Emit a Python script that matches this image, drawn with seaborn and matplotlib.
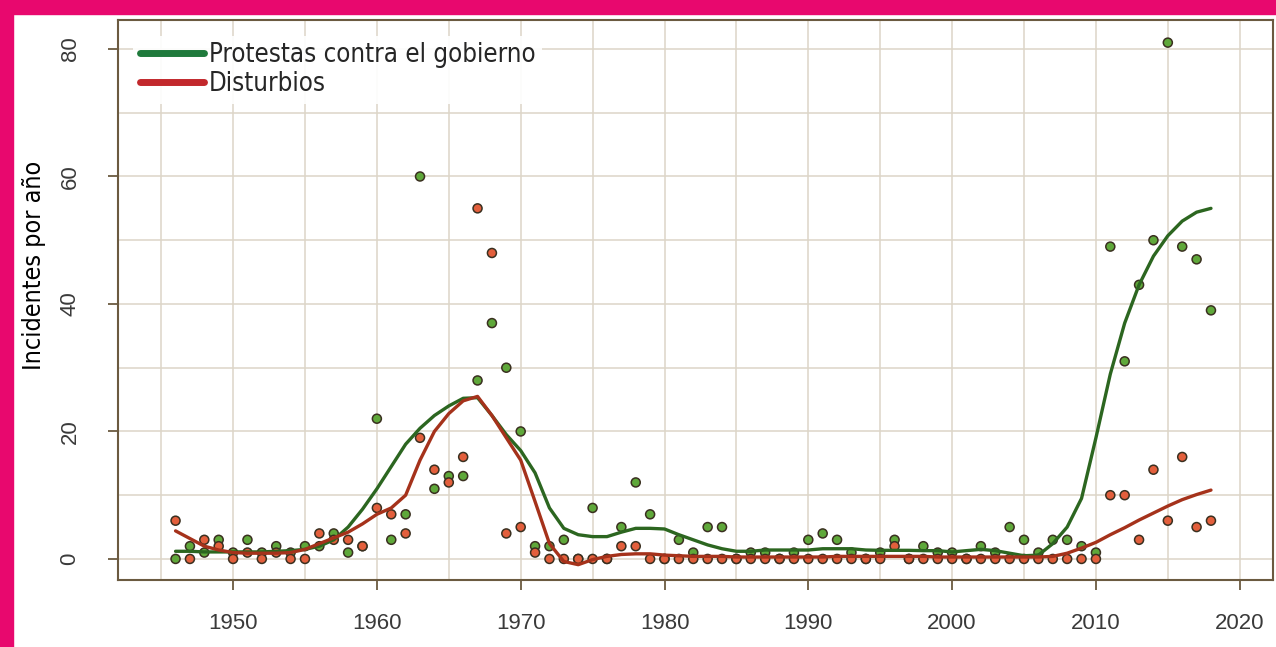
import numpy as np
import pandas as pd
import matplotlib
matplotlib.use('Agg')
import matplotlib.pyplot as plt
from matplotlib import font_manager
from matplotlib.font_manager import FontProperties
from matplotlib.lines import Line2D
from matplotlib.patches import Rectangle
import seaborn as sns

# yearly counts
years = list(range(1946, 2019))
protestas = [0, 2, 1, 3, 1, 3, 1, 2, 1, 2,
             2, 4, 1, 2, 22, 3, 7, 60, 11, 13,
             13, 28, 37, 30, 20, 2, 2, 3, 0, 8,
             0, 5, 12, 7, 0, 3, 1, 5, 5, 0,
             1, 1, 0, 1, 3, 4, 3, 1, 0, 1,
             3, 0, 2, 1, 1, 0, 2, 1, 5, 3,
             1, 3, 3, 2, 1, 49, 31, 43, 50, 81,
             49, 47, 39]
disturbios = [6, 0, 3, 2, 0, 1, 0, 1, 0, 0,
              4, 3, 3, 2, 8, 7, 4, 19, 14, 12,
              16, 55, 48, 4, 5, 1, 0, 0, 0, 0,
              0, 2, 2, 0, 0, 0, 0, 0, 0, 0,
              0, 0, 0, 0, 0, 0, 0, 0, 0, 0,
              2, 0, 0, 0, 0, 0, 0, 0, 0, 0,
              0, 0, 0, 0, 0, 10, 10, 3, 14, 6,
              16, 5, 6]

# smoothed trend lines (one value per year)
tend_protestas = [1.2, 1.2, 1.1, 1.1, 1.1, 1.1, 1.1, 1.2, 1.3, 1.5,
                  2.0, 3.0, 5.0, 7.8, 11.0, 14.5, 18.0, 20.5, 22.5, 24.0,
                  25.2, 25.3, 22.5, 19.5, 17.0, 13.5, 8.0, 4.8, 3.8, 3.5,
                  3.5, 4.2, 4.8, 4.8, 4.7, 3.8, 3.0, 2.2, 1.6, 1.2,
                  1.2, 1.4, 1.4, 1.4, 1.4, 1.6, 1.6, 1.6, 1.4, 1.35,
                  1.35, 1.35, 1.3, 1.3, 1.1, 1.3, 1.5, 1.3, 0.9, 0.5,
                  0.6, 2.4, 5.0, 9.5, 19.0, 29.0, 37.0, 43.0, 47.5, 50.7,
                  53.0, 54.4, 55.0]
tend_disturbios = [4.4, 3.2, 2.0, 1.4, 1.0, 0.9, 0.9, 0.9, 1.0, 1.5,
                   2.4, 3.3, 4.2, 5.5, 7.0, 8.0, 10.0, 15.5, 20.0, 22.8,
                   24.8, 25.5, 22.5, 19.0, 15.5, 9.0, 2.4, -0.4, -0.9, -0.1,
                   0.4, 0.7, 0.8, 0.8, 0.6, 0.5, 0.4, 0.4, 0.4, 0.3,
                   0.3, 0.3, 0.3, 0.3, 0.3, 0.3, 0.4, 0.4, 0.4, 0.4,
                   0.4, 0.4, 0.4, 0.3, 0.3, 0.3, 0.3, 0.3, 0.3, 0.3,
                   0.3, 0.4, 0.9, 1.7, 2.6, 3.8, 4.9, 6.1, 7.2, 8.3,
                   9.3, 10.1, 10.8]

etiquetas = ['Protestas contra el gobierno', 'Disturbios']

sns.set_style('white')
plt.rcParams['font.family'] = ['Liberation Sans', 'DejaVu Sans']


def condensed_font():
    # look for any narrow/condensed face; otherwise plain Roboto
    for f in font_manager.fontManager.ttflist:
        st = f.stretch
        narrow = ('Narrow' in f.name or 'Condensed' in f.name
                  or st in ('condensed', 'semi-condensed', 'extra-condensed')
                  or (isinstance(st, int) and st < 500))
        if narrow and f.style == 'normal' and f.weight in (400, 500, 'normal', 'regular', 'medium'):
            return FontProperties(fname=f.fname), True
    return FontProperties(family='Roboto'), False


cond, is_narrow = condensed_font()

puntos = pd.concat([
    pd.DataFrame({'year': years, 'n': protestas, 'serie': etiquetas[0]}),
    pd.DataFrame({'year': years, 'n': disturbios, 'serie': etiquetas[1]}),
])
tendencia = pd.concat([
    pd.DataFrame({'year': years, 'n': tend_protestas, 'serie': etiquetas[0]}),
    pd.DataFrame({'year': years, 'n': tend_disturbios, 'serie': etiquetas[1]}),
])

fig = plt.figure(figsize=(12.76, 6.47), dpi=100)
ax = fig.add_axes([0.0925, 0.1036, 0.905, 0.865])

fill = {etiquetas[0]: '#5fa83a', etiquetas[1]: '#e35f3c'}
line = {etiquetas[0]: '#2c6620', etiquetas[1]: '#a5321b'}

sns.scatterplot(data=puntos, x='year', y='n', hue='serie', palette=fill,
                s=42, edgecolor='#3a3020', linewidth=1.1, legend=False,
                zorder=3, ax=ax)
sns.lineplot(data=tendencia, x='year', y='n', hue='serie', palette=line,
             linewidth=2.4, legend=False, zorder=4, ax=ax)

ax.set_xlim(1942.0, 2022.3)
ax.set_ylim(-3.3, 84.5)
ax.set_xticks(range(1950, 2021, 10))
ax.set_xticks(range(1945, 2023, 5), minor=True)
ax.set_yticks([0, 20, 40, 60, 80])
ax.set_yticks(range(0, 85, 10), minor=True)
ax.grid(True, which='both', color='#ddd5c7', linewidth=1.1)
ax.set_axisbelow(True)

for s in ax.spines.values():
    s.set_color('#6b5a40')
    s.set_linewidth(1.5)
ax.tick_params(which='major', direction='out', length=7, width=1.3,
               color='#6b5a40', labelsize=16, labelcolor='#3a3a3a',
               left=True, bottom=True)
ax.tick_params(axis='x', which='major', pad=17)
ax.tick_params(axis='y', which='major', pad=20)
ax.tick_params(which='minor', length=0)
plt.setp(ax.get_yticklabels(), rotation=90, va='center')
ax.set_xlabel('')

size_txt = 18.5 if is_narrow else 18.3
ylab = cond.copy()
ylab.set_size(18)
ax.set_ylabel('Incidentes por año', fontproperties=ylab, color='black',
              ha='center', va='center')
ax.yaxis.set_label_coords(-0.073, 0.5625)

leg_font = cond.copy()
leg_font.set_size(size_txt)
handles = [Line2D([], [], color='#1f7a3c', lw=5),
           Line2D([], [], color='#c2282c', lw=5)]
leg = ax.legend(handles, etiquetas, loc='upper left',
                bbox_to_anchor=(0.0, 1.0), frameon=True, framealpha=0.92,
                facecolor='white', edgecolor='none', fancybox=False,
                handlelength=2.5, handletextpad=0.2, labelspacing=0.12,
                borderpad=0.25, borderaxespad=0.6, prop=leg_font)

# pink frame of the graphic
fig.add_artist(Rectangle((0, 0), 13 / 1276, 1, transform=fig.transFigure,
                         color='#e8086e', zorder=10))
fig.add_artist(Rectangle((0, 1 - 14 / 647), 1, 14 / 647,
                         transform=fig.transFigure, color='#e8086e', zorder=10))

fig.savefig('out.png', dpi=100, facecolor='white')
